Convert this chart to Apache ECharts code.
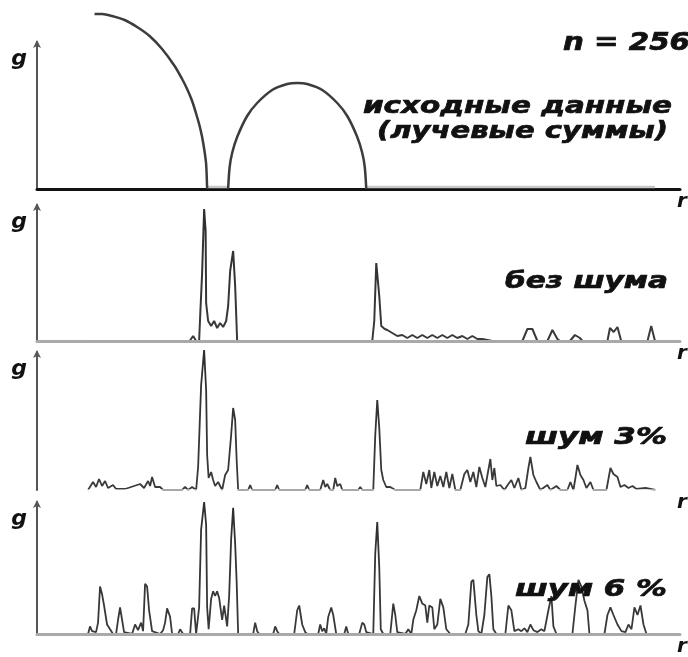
<!DOCTYPE html>
<html><head><meta charset="utf-8">
<script src="https://cdn.jsdelivr.net/npm/echarts@6/dist/echarts.min.js"></script>
<style>html,body{margin:0;padding:0;background:#fff}#c{width:688px;height:657px}</style>
</head><body><div id="c"></div>
<script>
// ---- Panel 1: source data (ray sums), r in 0..257, g in arbitrary units
const arc1R = [23, 26, 30, 35, 40, 45, 50, 55, 58, 60, 62, 64, 65, 66, 67, 67.6, 68];
const arc1G = [175, 175, 173, 169, 162, 153, 140, 123, 110, 100, 88, 72, 63, 52, 37, 25, 0];
const arc2R = [76.4, 77, 78, 80, 84, 88, 94, 100, 104, 108, 114, 120, 124, 128, 130, 131, 131.6];
const arc2G = [0, 22, 36, 52, 73, 86, 99, 105, 106, 105, 99, 86, 73, 52, 36, 22, 0];
const base1R = [68, 76.4, null, 131.6, 247];
const base1G = [2, 2, null, 2, 2];

// ---- Panel 2: no noise
const p2R = [20, 61, 62.4, 63.6, 64.8, 65.2, 66, 66.8, 67.4, 67.6, 68.4, 69.6, 70.8, 72, 73.2, 74.4, 75.6, 76.4, 77.2, 78.4, 79.2, 80,
  134, 134.8, 135.6, 136.2, 136.8, 137.6, 139, 140, 142, 144, 146, 148, 150, 152, 154, 156, 158, 160, 162, 164, 166, 168, 170, 172, 174, 176, 178, 180, 182,
  194, 196, 198, 200, 204, 206, 208, 209, 213, 215, 217, 218, 228, 229, 230.5, 232, 233.5, 244, 245.5, 247];
const p2G = [0, 0, 5, 0, 0, 24, 68, 132, 110, 38, 20, 15, 20, 13, 18, 14, 20, 35, 70, 90, 55, 0,
  0, 20, 78, 80, 45, 15, 12, 11, 8, 5, 6, 3, 6, 3, 6, 3, 6, 3, 6, 3, 6, 3, 5, 2, 5, 2, 2, 1, 0,
  0, 12, 12, 0, 0, 11, 2, 0, 0, 6, 3, 0, 0, 13, 9, 14, 0, 0, 15, 0];

// ---- Panel 3: noise 3%
const p3R = [20.4, 22.4, 23.6, 24.8, 26, 27.2, 28.4, 30.4, 31.6, 35.2, 41.2, 42.8, 44.4, 45.2, 46, 47.2, 49.2, 50.4, 58, 59.2, 60.4, 62, 63.6,
  64.4, 65.6, 66.8, 67.6, 68, 68.6, 69.6, 70.4, 71.2, 72.4, 74, 75.2, 76.4, 77.6, 78.4, 79.2, 79.8, 80.4,
  84.4, 85.2, 86, 95.2, 96, 96.8, 107.2, 108, 108.8, 113.2, 114.4, 115.2, 116, 117.2, 118.4, 119.2, 120, 121.2, 122, 128.4, 129.2, 130,
  134.4, 135.2, 136, 136.8, 137.6, 138.4, 139.6, 141.2, 143.2,
  153.2, 154.4, 155.6, 156.8, 157.6, 158.8, 160, 161.2, 162.4, 163.6, 164.8, 166, 167.2, 169.2, 170.8, 172, 173.2, 174.4, 175.6, 176.8, 178,
  179.2, 180.4, 181.2, 182, 182.8, 183.6, 185.2, 186.8, 188.4, 189.6, 190.8, 192.4, 193.6, 195.2, 196.4, 197.2, 198.4, 199.6, 201.2,
  204, 205.2, 207.6, 209.2, 212, 213.2, 214.4, 215.2, 216, 217.2, 218.4, 219.6, 221.2, 222.4, 227.6, 229.2, 230.4, 232, 233.2, 234.8,
  236.4, 238, 239.6, 243.2, 247.2];
const p3G = [0, 8, 3, 11, 4, 9, 2, 5, 1, 1, 6, 2, 9, 4, 13, 3, 3, 0, 0, 3, 0, 3, 0,
  23, 105, 140, 100, 35, 12, 18, 10, 4, 8, 0, 15, 20, 55, 82, 70, 30, 0,
  0, 5, 0, 0, 5, 0, 0, 5, 0, 0, 10, 3, 6, 0, 0, 12, 4, 6, 0, 0, 3, 0,
  0, 55, 90, 62, 20, 10, 3, 3, 0,
  0, 18, 6, 20, 2, 18, 4, 14, 3, 18, 2, 16, 0, 0, 16, 20, 8, 18, 3, 23, 12,
  3, 20, 31, 10, 22, 4, 5, 0, 6, 10, 2, 12, 0, 2, 22, 33, 15, 8, 0,
  5, 0, 4, 0, 0, 8, 0, 12, 25, 15, 10, 2, 8, 0, 0, 22, 16, 13, 3, 5,
  2, 4, 1, 2, 0];

// ---- Panel 4: noise 6%
const p4R = [20.4, 21.2, 22, 23.6, 24.4, 25.2, 26, 26.8, 28, 29.2, 30.4, 31.6, 32.4, 33.2, 34, 34.8, 38, 39.2, 40.4, 41.6, 42.4, 43.2, 44, 44.8, 46,
  49.2, 50.4, 51.2, 52, 53.2, 54, 56.4, 57.2, 58.4, 61.2, 62, 62.8, 63.6,
  64.8, 65.6, 66.8, 67.6, 68, 68.6, 69.6, 70.4, 71.2, 72, 72.8, 74, 74.8, 76, 76.8, 77.6, 78.4, 79.2, 79.8, 80.4,
  86.4, 87.2, 88, 88.8, 94.4, 95.2, 96, 96.8, 102.8, 104, 104.8, 106, 107.2, 108, 112.4, 113.2, 114, 114.8, 115.6, 116.4, 117.6, 118.4, 119.6,
  122.8, 123.6, 124.4, 128.8, 130, 130.8, 131.6, 134.4, 135.2, 136, 136.8, 137.4, 138.4,
  141.2, 142.4, 143.2, 144, 147.2, 148.4, 149.6, 150.4, 151.6, 152.8, 154, 155.2, 156, 156.8, 158, 158.8, 160, 161.2, 162.4, 163.6, 165.2,
  171.2, 172.4, 173.6, 174.4, 175.6, 176.4, 177.6, 178.8, 180, 180.8, 181.6, 182.4, 183.6,
  187.2, 188.4, 189.6, 190.8, 192.4, 193.6, 194.8, 196, 197.2, 198.4, 200, 201.6, 202.8, 204.4, 205.6, 206.4, 207.6,
  214, 215.2, 216.4, 217.6, 218.8, 220, 220.8, 226.8, 228, 229.2, 230.4, 232, 233.6, 235.2, 236.4, 237.6, 238.8, 240, 241.2, 242.4, 243.6, 247.2];
const p4G = [0, 8, 3, 2, 12, 50, 42, 30, 10, 5, 0, 0, 15, 28, 15, 2, 0, 10, 4, 12, 3, 53, 50, 25, 3,
  0, 4, 12, 27, 18, 0, 0, 5, 0, 0, 27, 27, 0,
  28, 110, 139, 115, 28, 5, 37, 45, 40, 45, 38, 15, 30, 8, 40, 100, 133, 95, 55, 0,
  0, 12, 3, 0, 0, 8, 3, 0, 0, 25, 30, 10, 2, 0, 0, 10, 3, 6, 0, 18, 28, 20, 0,
  0, 8, 0, 0, 12, 10, 2, 0, 85, 118, 70, 5, 0,
  0, 32, 20, 2, 0, 5, 0, 15, 25, 40, 32, 30, 12, 30, 28, 5, 10, 37, 28, 5, 0,
  0, 10, 55, 57, 20, 3, 0, 20, 60, 63, 40, 5, 0,
  0, 30, 25, 3, 5, 3, 6, 2, 10, 4, 2, 5, 3, 25, 40, 8, 0,
  0, 30, 57, 50, 35, 25, 0, 0, 20, 28, 20, 10, 3, 2, 10, 5, 28, 20, 30, 10, 0, 0];

// ---- Texts
const labelTitle = 'n = 256';
const labelSrc1 = 'исходные данные';
const labelSrc2 = '(лучевые суммы)';
const labelP2 = 'без шума';
const labelP3 = 'шум 3%';
const labelP4 = 'шум 6 %';
const yName = 'g', xName = 'r';
const yMax = [147, 136, 138, 139];

function pairs(rs, gs) { return rs.map((r, i) => r === null ? [null, null] : [r, gs[i]]); }

const FONT = '"DejaVu Sans", "Liberation Sans", sans-serif';
const grids = [
  {left: 37, right: 8, top: 42, height: 147},
  {left: 37, right: 8, top: 205, height: 136},
  {left: 37, right: 8, top: 352, height: 138},
  {left: 37, right: 8, top: 502, height: 139}
];
const xColors = ['#111', '#aaa', null, '#aaa'];
const xAxes = grids.map((g, i) => ({
  type: 'value', gridIndex: i, min: 0, max: 257,
  axisLine: {show: xColors[i] !== null, onZero: false, lineStyle: {color: xColors[i] || '#aaa', width: 3}},
  axisTick: {show: false}, axisLabel: {show: false}, splitLine: {show: false},
  name: xName, nameLocation: 'end', nameGap: -3,
  nameTextStyle: {fontFamily: FONT, fontStyle: 'italic', fontWeight: 'bold', fontSize: 20, color: '#111',
    align: 'left', verticalAlign: 'top', padding: [3, 0, 0, 0]}
}));
const yAxes = grids.map((g, i) => ({
  type: 'value', gridIndex: i, min: 0, max: yMax[i],
  axisLine: {show: true, lineStyle: {color: '#555', width: 2}, symbol: ['none', 'arrow'], symbolSize: [6, 8], symbolOffset: [0, 2]},
  axisTick: {show: false}, axisLabel: {show: false}, splitLine: {show: false},
  name: yName, nameLocation: 'end', nameGap: -6,
  nameTextStyle: {fontFamily: FONT, fontStyle: 'italic', fontWeight: 'bold', fontSize: 22, color: '#111',
    align: 'right', verticalAlign: 'top', padding: [0, 10, 0, 0]}
}));

// dark line, light grey where it lies on the baseline
function grad() {
  return new echarts.graphic.LinearGradient(0, 0, 0, 1, [
    {offset: 0, color: '#2e2e2e'}, {offset: 0.975, color: '#3a3a3a'},
    {offset: 0.978, color: '#a8a8a8'}, {offset: 1, color: '#a8a8a8'}]);
}
const lineBase = {type: 'line', showSymbol: false, symbol: 'none', animation: false, clip: false};
const series = [
  Object.assign({}, lineBase, {xAxisIndex: 0, yAxisIndex: 0, data: pairs(base1R, base1G), connectNulls: false,
    lineStyle: {color: '#c8c8c8', width: 2.5}}),
  Object.assign({}, lineBase, {xAxisIndex: 0, yAxisIndex: 0, data: pairs(arc1R, arc1G), smooth: 0.3,
    lineStyle: {color: '#3c3c3c', width: 2.5}}),
  Object.assign({}, lineBase, {xAxisIndex: 0, yAxisIndex: 0, data: pairs(arc2R, arc2G), smooth: 0.3,
    lineStyle: {color: '#3c3c3c', width: 2.5}}),
  Object.assign({}, lineBase, {xAxisIndex: 1, yAxisIndex: 1, data: pairs(p2R, p2G), lineStyle: {width: 2, color: grad()}}),
  Object.assign({}, lineBase, {xAxisIndex: 2, yAxisIndex: 2, data: pairs(p3R, p3G), lineStyle: {width: 1.8, color: grad()}}),
  Object.assign({}, lineBase, {xAxisIndex: 3, yAxisIndex: 3, data: pairs(p4R, p4G), lineStyle: {width: 1.8, color: grad()}})
];

// text fitted to measured widths in the reference
const cv = document.createElement('canvas').getContext('2d');
function fitted(str, left, right, cy, size) {
  cv.font = 'italic bold ' + size + 'px "DejaVu Sans"';
  const w = cv.measureText(str).width;
  return {type: 'text', x: left, y: cy, scaleX: (right - left) / w, z: 10,
    style: {text: str, fontFamily: FONT, fontStyle: 'italic', fontWeight: 'bold', fontSize: size,
      fill: '#111', stroke: '#111', lineWidth: 0.7, textAlign: 'left', textVerticalAlign: 'middle'}};
}
const graphic = [
  fitted(labelTitle, 563, 690, 44, 24),
  fitted(labelSrc1, 363, 672, 107, 23),
  fitted(labelSrc2, 377, 668, 132, 23),
  fitted(labelP2, 505, 668, 282, 23),
  fitted(labelP3, 525, 667, 438, 23),
  fitted(labelP4, 515, 667, 590, 23)
];

const chart = echarts.init(document.getElementById('c'), null, {renderer: 'canvas'});
chart.setOption({
  backgroundColor: '#fff', animation: false,
  grid: grids, xAxis: xAxes, yAxis: yAxes, series: series, graphic: graphic
});
</script></body></html>
